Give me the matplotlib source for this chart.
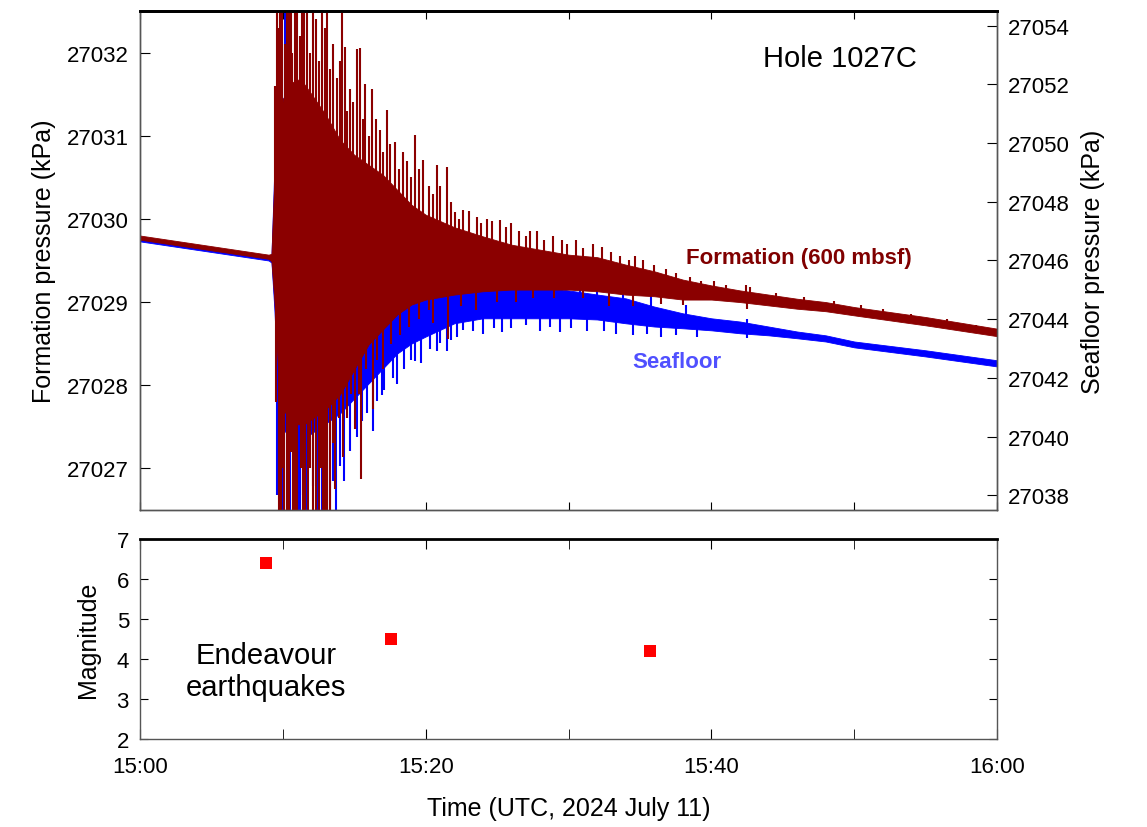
#!/usr/bin/env python3
import numpy as np
import matplotlib
matplotlib.use('Agg')
import matplotlib.pyplot as plt
from matplotlib.ticker import MultipleLocator

plt.rcParams['font.family'] = ['Liberation Sans', 'DejaVu Sans']

# Tiempo en minutos después de las 15:00 UTC
env_t = [0, 9.0, 9.2, 9.4, 9.7, 10, 10.5, 11, 11.5, 12, 13, 14, 15, 16, 17, 18, 19, 20,
         22, 24, 26, 28, 30, 32, 34, 36, 38, 40, 42, 44, 46, 48, 50, 55, 60]

# Envolvente de la presión de formación (kPa, eje izquierdo)
form_hi = [27029.80, 27029.57, 27029.58, 27030.47, 27031.07, 27031.44, 27031.62, 27031.68,
           27031.62, 27031.50, 27031.25, 27030.95, 27030.77, 27030.65, 27030.53, 27030.35,
           27030.17, 27030.05, 27029.90, 27029.79, 27029.69, 27029.63, 27029.57, 27029.54,
           27029.45, 27029.37, 27029.27, 27029.20, 27029.14, 27029.09, 27029.04, 27029.00,
           27028.94, 27028.82, 27028.68]
form_lo = [27029.75, 27029.52, 27029.49, 27029.03, 27028.07, 27027.71, 27027.59, 27027.53,
           27027.53, 27027.59, 27027.71, 27027.89, 27028.19, 27028.49, 27028.67, 27028.85,
           27028.97, 27029.03, 27029.09, 27029.13, 27029.15, 27029.15, 27029.15, 27029.13,
           27029.09, 27029.07, 27029.03, 27029.03, 27029.00, 27028.96, 27028.92, 27028.89,
           27028.84, 27028.72, 27028.59]

# Envolvente de la presión del fondo marino (kPa, eje derecho)
sea_hi = [27046.78, 27046.14, 27046.20, 27049.13, 27050.83, 27051.51, 27051.86, 27051.86,
          27051.69, 27051.34, 27050.49, 27049.81, 27049.13, 27048.45, 27047.94, 27047.43,
          27046.92, 27046.58, 27046.00, 27045.73, 27045.22, 27045.11, 27044.98, 27044.84,
          27044.71, 27044.43, 27044.20, 27044.03, 27043.92, 27043.75, 27043.58, 27043.45,
          27043.24, 27042.94, 27042.60]
sea_lo = [27046.65, 27046.00, 27045.93, 27044.37, 27041.30, 27040.28, 27039.94, 27039.94,
          27039.94, 27040.11, 27040.45, 27040.79, 27041.30, 27041.81, 27042.32, 27042.83,
          27043.17, 27043.41, 27043.86, 27044.03, 27044.03, 27044.03, 27044.03, 27043.99,
          27043.86, 27043.75, 27043.69, 27043.62, 27043.52, 27043.45, 27043.35, 27043.24,
          27043.04, 27042.73, 27042.39]

# Picos hacia arriba de la formación (tiempo, máximo)
form_up_t = [9.45, 9.59, 9.65, 9.80, 9.95, 10.15, 10.29, 10.40, 10.57, 10.65, 10.85, 11.00,
             11.20, 11.34, 11.50, 11.69, 11.90, 12.11, 12.30, 12.55, 12.74, 12.95, 13.09,
             13.30, 13.50, 13.80, 14.00, 14.14, 14.35, 14.50, 14.70, 14.90, 15.19, 15.40,
             15.60, 15.75, 16.00, 16.24, 16.50, 16.80, 17.00, 17.29, 17.50, 17.85, 18.10,
             18.41, 18.70, 19.00, 19.25, 19.50, 19.81, 20.20, 20.50, 20.79, 21.00, 21.49,
             21.80, 22.05, 22.30, 22.61, 23.00, 23.59, 23.90, 24.30, 24.64, 25.20, 25.60,
             26.00, 26.50, 27.00, 27.31, 27.80, 28.30, 28.90, 29.55, 29.90, 30.50, 31.00,
             31.70, 32.35, 33.00, 33.60, 34.20, 34.66, 35.20, 36.00, 36.80, 37.50, 38.50,
             39.30, 40.20, 41.00, 42.40, 42.70, 44.50, 46.50, 48.60, 50.50, 52.00, 54.00,
             56.50, 58.50]
form_up_hi = [27031.60, 27033.00, 27032.30, 27033.00, 27032.60, 27032.10, 27033.00, 27032.60,
              27033.00, 27032.00, 27033.00, 27032.60, 27032.20, 27033.00, 27032.60, 27033.00,
              27032.00, 27033.00, 27032.40, 27031.90, 27033.00, 27032.30, 27033.00, 27031.80,
              27032.10, 27031.70, 27031.90, 27033.00, 27032.07, 27031.30, 27031.56, 27031.40,
              27032.04, 27032.06, 27031.20, 27031.62, 27031.00, 27031.56, 27031.20, 27031.07,
              27030.80, 27031.31, 27030.90, 27030.92, 27030.60, 27030.81, 27030.70, 27030.50,
              27031.01, 27030.60, 27030.71, 27030.40, 27030.30, 27030.65, 27030.40, 27030.63,
              27030.20, 27030.08, 27030.00, 27030.11, 27030.10, 27030.02, 27029.95, 27030.00,
              27029.97, 27029.99, 27029.90, 27029.95, 27029.85, 27029.80, 27029.85, 27029.85,
              27029.75, 27029.80, 27029.75, 27029.70, 27029.75, 27029.65, 27029.70, 27029.66,
              27029.60, 27029.55, 27029.50, 27029.55, 27029.50, 27029.45, 27029.40, 27029.35,
              27029.30, 27029.25, 27029.25, 27029.20, 27029.20, 27029.18, 27029.11, 27029.06,
              27029.01, 27028.96, 27028.92, 27028.86, 27028.80, 27028.73]

# Picos hacia abajo de la formación (tiempo, mínimo)
form_dn_t = [9.50, 9.70, 9.85, 10.00, 10.08, 10.29, 10.40, 10.60, 10.71, 10.85, 11.00, 11.25,
             11.41, 11.55, 11.76, 11.90, 12.11, 12.30, 12.53, 12.65, 12.81, 12.95, 13.09,
             13.30, 13.50, 13.65, 13.90, 14.21, 14.50, 14.80, 15.05, 15.30, 15.45, 15.80,
             16.31, 16.60, 17.00, 17.60, 18.20, 18.80, 19.50, 20.20, 20.50, 21.56, 22.50,
             23.50, 25.00, 26.30, 27.50, 29.00, 31.00, 32.80, 34.50, 36.50, 38.00, 42.50]
form_dn_lo = [27027.80, 27026.30, 27026.00, 27027.00, 27026.00, 27026.00, 27026.20, 27027.20,
              27026.00, 27026.00, 27026.40, 27027.00, 27026.00, 27026.30, 27026.00, 27027.00,
              27026.00, 27026.50, 27026.00, 27027.00, 27026.00, 27026.40, 27026.00, 27026.00,
              27027.30, 27026.75, 27027.60, 27027.14, 27027.60, 27027.90, 27027.47, 27027.90,
              27026.87, 27028.20, 27027.71, 27028.30, 27028.20, 27028.50, 27028.60, 27028.70,
              27028.80, 27028.90, 27028.75, 27028.55, 27028.95, 27028.90, 27029.00, 27029.00,
              27029.05, 27029.05, 27029.05, 27028.95, 27028.95, 27028.98, 27028.97, 27028.92]

# Picos hacia abajo del fondo marino (tiempo, mínimo)
sea_dn_t = [9.60, 9.90, 10.01, 10.29, 10.40, 10.50, 10.80, 11.06, 11.20, 11.40, 11.70,
            12.10, 12.46, 12.74, 12.90, 13.02, 13.30, 13.50, 13.72, 14.00, 14.30, 14.70,
            15.20, 15.54, 15.90, 16.31, 16.60, 16.94, 17.10, 17.36, 17.70, 18.00, 18.50,
            19.00, 19.25, 19.70, 20.30, 20.79, 21.00, 21.49, 21.80, 22.20, 22.61, 23.30,
            24.00, 24.80, 25.35, 26.00, 27.00, 28.00, 28.70, 29.41, 30.20, 31.30, 32.50,
            33.30, 34.52, 35.50, 36.50, 37.50, 39.00, 42.50]
sea_dn_lo = [27038.00, 27037.00, 27037.00, 27037.00, 27038.50, 27037.00, 27037.00, 27037.00,
             27037.00, 27038.00, 27037.00, 27038.30, 27037.00, 27037.00, 27037.50, 27037.00,
             27037.00, 27038.50, 27037.00, 27039.00, 27038.50, 27039.50, 27040.00, 27040.52,
             27040.80, 27040.18, 27041.20, 27041.40, 27041.60, 27042.90, 27042.00, 27041.80,
             27042.30, 27042.60, 27042.56, 27042.50, 27043.00, 27042.90, 27043.20, 27042.90,
             27043.30, 27043.40, 27043.62, 27043.60, 27043.50, 27043.70, 27043.58, 27043.70,
             27043.80, 27043.60, 27043.75, 27043.58, 27043.70, 27043.60, 27043.60, 27043.50,
             27043.45, 27043.50, 27043.40, 27043.45, 27043.40, 27043.35]

# Picos hacia arriba del fondo marino (tiempo, máximo)
sea_up_t = [10.15, 23.00, 25.80, 27.50, 29.00, 30.80, 32.00, 33.80, 35.80, 38.20, 42.50]
sea_up_hi = [27055.50, 27045.90, 27045.60, 27045.50, 27045.40, 27045.30, 27045.20, 27045.00,
             27044.80, 27044.50, 27044.00]

# Sismos de Endeavour
quake_t = [8.8, 17.6, 35.7]
quake_mag = [6.4, 4.5, 4.2]

form_color = '#8b0000'
sea_color = '#0000ff'

# Cada pico arranca desde el centro de su envolvente
form_mid = (np.array(form_hi) + np.array(form_lo)) / 2
sea_mid = (np.array(sea_hi) + np.array(sea_lo)) / 2

fig = plt.figure(figsize=(11.47, 8.28), dpi=100)
ax1 = fig.add_axes([0.1221, 0.3829, 0.7472, 0.6026])
ax2 = ax1.twinx()
ax3 = fig.add_axes([0.1221, 0.1063, 0.7472, 0.2415])

# Fondo marino (debajo)
ax2.fill_between(env_t, sea_lo, sea_hi, color=sea_color, linewidth=0.6, edgecolor=sea_color)
ax2.vlines(sea_dn_t, sea_dn_lo, np.interp(sea_dn_t, env_t, sea_mid), color=sea_color,
           linewidth=1.5)
ax2.vlines(sea_up_t, np.interp(sea_up_t, env_t, sea_mid), sea_up_hi, color=sea_color,
           linewidth=1.5)

# Formación (encima)
ax1.set_zorder(ax2.get_zorder() + 1)
ax1.patch.set_visible(False)
ax1.fill_between(env_t, form_lo, form_hi, color=form_color, linewidth=0.6, edgecolor=form_color)
ax1.vlines(form_up_t, np.interp(form_up_t, env_t, form_mid), form_up_hi, color=form_color,
           linewidth=1.5)
ax1.vlines(form_dn_t, form_dn_lo, np.interp(form_dn_t, env_t, form_mid), color=form_color,
           linewidth=1.5)

ax1.set_xlim(0, 60)
ax1.set_ylim(27026.5, 27032.5)
ax2.set_ylim(27037.5, 27054.5)
ax1.yaxis.set_major_locator(MultipleLocator(1))
ax2.yaxis.set_major_locator(MultipleLocator(2))
ax1.xaxis.set_major_locator(MultipleLocator(10))
ax1.set_xticklabels([])
ax1.tick_params(axis='x', direction='in', top=True, bottom=True, length=6)
ax1.tick_params(axis='y', direction='in', length=7, labelsize=16, pad=8)
ax2.tick_params(axis='y', direction='in', length=7, labelsize=16, pad=8)
ax1.get_yaxis().get_major_formatter().set_useOffset(False)
ax2.get_yaxis().get_major_formatter().set_useOffset(False)
ax1.set_ylabel('Formation pressure (kPa)', fontsize=18, labelpad=8)
ax2.set_ylabel('Seafloor pressure (kPa)', fontsize=18, labelpad=8)

ax1.text(43.6, 27031.94, 'Hole 1027C', fontsize=21, ha='left', va='center')
ax1.text(38.2, 27029.54, 'Formation (600 mbsf)', fontsize=16, fontweight='bold',
         color='#800000', ha='left', va='center')
ax1.text(34.45, 27028.28, 'Seafloor', fontsize=16, fontweight='bold',
         color='#5050ff', ha='left', va='center')

# Panel de magnitudes
ax3.plot(quake_t, quake_mag, 's', color='#ff0000', markersize=9, markeredgewidth=0)
ax3.set_xlim(0, 60)
ax3.set_ylim(2, 7)
ax3.xaxis.set_minor_locator(MultipleLocator(10))
ax3.set_xticks([0, 20, 40, 60])
ax3.set_xticklabels(['15:00', '15:20', '15:40', '16:00'])
ax3.yaxis.set_major_locator(MultipleLocator(1))
ax3.tick_params(axis='both', which='both', direction='in', top=True, right=True,
                labelsize=16)
ax3.tick_params(axis='x', which='major', length=7, pad=12)
ax3.tick_params(axis='x', which='minor', length=7)
ax3.tick_params(axis='y', length=6, pad=8)
ax3.set_ylabel('Magnitude', fontsize=18, labelpad=12)
ax3.set_xlabel('Time (UTC, 2024 July 11)', fontsize=18, labelpad=14)
ax3.text(8.8, 3.7, 'Endeavour\nearthquakes', fontsize=21, ha='center', va='center',
         linespacing=1.15)

for ax in (ax1, ax2, ax3):
    for side in ('left', 'right', 'bottom'):
        ax.spines[side].set_color('#555555')
        ax.spines[side].set_linewidth(1.0)
    ax.spines['top'].set_color('black')
    ax.spines['top'].set_linewidth(2.0)

fig.savefig('out.png', dpi=100)
